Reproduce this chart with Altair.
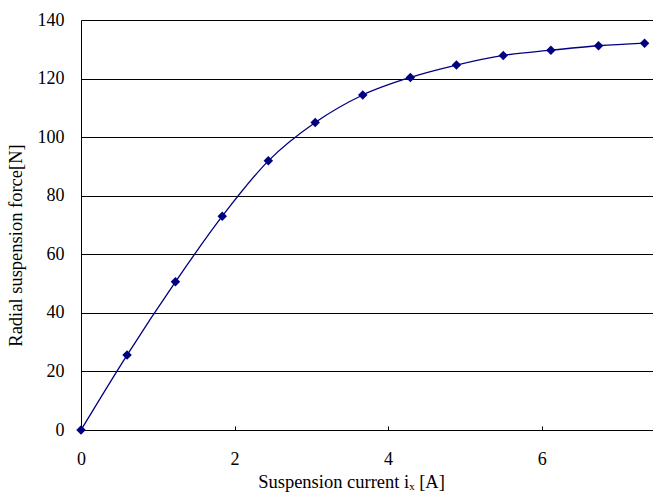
import altair as alt
import pandas as pd

current = [0.0, 0.60, 1.23, 1.84, 2.44, 3.05, 3.67, 4.29, 4.89, 5.50, 6.12, 6.74, 7.34]
force = [0.0, 25.6, 50.6, 73.0, 91.9, 105.0, 114.4, 120.4, 124.6, 127.9, 129.7, 131.2, 132.1]
x_ticks = [0, 2, 4, 6]
y_ticks = [0, 20, 40, 60, 80, 100, 120, 140]

df = pd.DataFrame({"current": current, "force": force})

FONT = "Liberation Serif"
NAVY = "#000080"

x_scale = alt.Scale(domain=[0, 7.45], nice=False, zero=False)
y_scale = alt.Scale(domain=[0, 140], nice=False)

base = alt.Chart(df)

line = base.mark_line(color=NAVY, strokeWidth=1.3, interpolate="monotone").encode(
    x=alt.X("current:Q", scale=x_scale,
            axis=alt.Axis(values=x_ticks, title="Suspension current iₓ [A]",
                          grid=False, ticks=False, tickSize=0,
                          domain=True, domainColor="#000", domainWidth=1,
                          labelFont=FONT, labelFontSize=18, labelColor="#000",
                          labelBaseline="alphabetic", labelPadding=34, labelFlush=False,
                          titleFont=FONT, titleFontSize=18.5, titleFontWeight="normal",
                          titleColor="#000", titleX=270, titleY=57,
                          titleAlign="center", titleBaseline="alphabetic")),
    y=alt.Y("force:Q", scale=y_scale,
            axis=alt.Axis(values=y_ticks, title="Radial suspension force[N]",
                          grid=True, gridColor="#000", gridWidth=1,
                          ticks=False, tickSize=0,
                          domain=True, domainColor="#000", domainWidth=1,
                          labelFont=FONT, labelFontSize=18, labelColor="#000",
                          labelPadding=17, labelFlush=False,
                          titleFont=FONT, titleFontSize=18.5, titleFontWeight="normal",
                          titleColor="#000", titleX=-66, titleY=225,
                          titleAngle=270, titleAlign="center", titleBaseline="middle")),
)

points = base.mark_point(shape="diamond", filled=True, color=NAVY, size=90, opacity=1).encode(
    x=alt.X("current:Q", scale=x_scale,
            axis=alt.Axis(orient="top", offset=-410, values=[2, 4, 6], labels=False,
                          title=None, grid=False, domain=False, ticks=True,
                          tickSize=4, tickColor="#000", tickWidth=1)),
    y=alt.Y("force:Q", scale=y_scale),
)

chart = alt.layer(line, points).resolve_axis(x="independent").properties(
    width=572, height=410,
    autosize=alt.AutoSizeParams(type="none"),
    padding={"left": 81, "top": 20, "right": 0, "bottom": 63},
).configure_view(stroke=None).configure(background="white")

chart.save("out.html", embed_options={"renderer": "svg", "actions": False})
